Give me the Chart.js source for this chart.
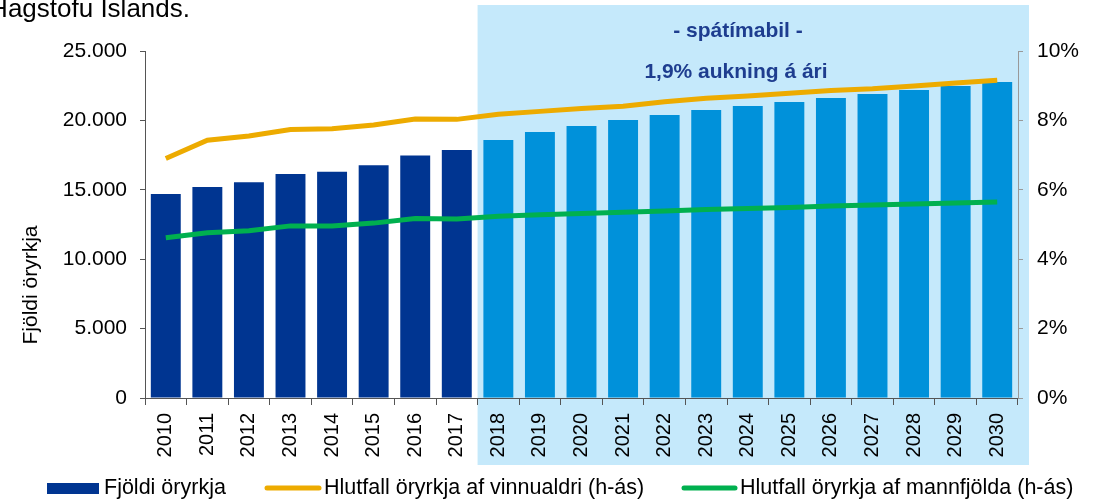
<!DOCTYPE html>
<html lang="is">
<head>
<meta charset="UTF-8">
<title>Fjöldi öryrkja</title>
<style>
  html, body { margin: 0; padding: 0; background: #fff; }
  #graf { display: block; }
</style>
</head>
<body>
<canvas id="graf" width="1099" height="499"></canvas>
<script src="https://cdn.jsdelivr.net/npm/chart.js@4"></script>
<script>
// ================= GÖGN =================
const ar = ["2010", "2011", "2012", "2013", "2014", "2015", "2016", "2017", "2018", "2019", "2020",
  "2021", "2022", "2023", "2024", "2025", "2026", "2027", "2028", "2029", "2030"];
const fjoldiOryrkja = [14700, 15200, 15540, 16140, 16300, 16760, 17480, 17870, 18590, 19160, 19600,
  20030, 20390, 20750, 21040, 21330, 21610, 21900, 22190, 22480, 22770];
const hlutfallVinnualdur = [6.90, 7.43, 7.55, 7.74, 7.76, 7.87, 8.04, 8.03, 8.18, 8.26, 8.34,
  8.41, 8.54, 8.64, 8.70, 8.78, 8.86, 8.91, 8.99, 9.08, 9.16];
const hlutfallMannfjoldi = [4.62, 4.76, 4.82, 4.96, 4.96, 5.04, 5.17, 5.16, 5.24, 5.28, 5.32,
  5.35, 5.39, 5.43, 5.46, 5.49, 5.53, 5.56, 5.59, 5.62, 5.65];
const vinstriAs = [0, 5000, 10000, 15000, 20000, 25000];
const haegriAs = [0, 2, 4, 6, 8, 10];
const spaHefst = "2018"; // fyrsta ár spátímabils

// ================= LITIR OG LETUR =================
const DOKKBLAR = "#003591";
const LJOSBLAR = "#0091da";
const SPA_BAKGRUNNUR = "#c5e9fb";
const APPELSINA = "#edab00";
const GRAENN = "#00b04f";
const TEXTI_SPA = "#1e3d8f";
const LETUR = "'Liberation Sans', Arial, sans-serif";

const spaIndex = ar.indexOf(spaHefst);
const thusund = v => String(v).replace(/\B(?=(\d{3})+(?!\d))/g, ".");

// ================= TEIKNING =================
const bakgrunnur = {
  id: "bakgrunnur",
  beforeDraw(chart) {
    const { ctx, scales } = chart;
    const x0 = scales.x.getPixelForValue(spaIndex - 0.5);
    const x1 = scales.y1.left + 11;
    ctx.save();
    ctx.fillStyle = SPA_BAKGRUNNUR;
    ctx.fillRect(x0, 5, x1 - x0, 460);
    ctx.restore();
  },
  afterDraw(chart) {
    const { ctx } = chart;
    ctx.save();
    // heimild efst til vinstri (klippt)
    ctx.font = "26px " + LETUR;
    ctx.fillStyle = "#000";
    ctx.textBaseline = "alphabetic";
    const heimild = "Hagstofu Islands.";
    ctx.fillText(heimild, 190 - ctx.measureText(heimild).width, 17);

    // texti í spásvæði
    ctx.fillStyle = TEXTI_SPA;
    ctx.font = "bold 21px " + LETUR;
    ctx.textAlign = "center";
    ctx.fillText("- spátímabil -", 738, 37);
    ctx.fillText("1,9% aukning á ári", 736, 78);

    // titill vinstri áss
    ctx.fillStyle = "#000";
    ctx.font = "21px " + LETUR;
    ctx.textBaseline = "middle";
    ctx.translate(31, 285);
    ctx.rotate(-Math.PI / 2);
    ctx.fillText("Fjöldi öryrkja", 0, 0);
    ctx.restore();

    // skýringar
    ctx.save();
    ctx.font = "21.5px " + LETUR;
    ctx.textBaseline = "middle";
    const y = 488;
    ctx.fillStyle = DOKKBLAR;
    ctx.fillRect(47, y - 5, 52, 11);
    ctx.fillStyle = "#000";
    ctx.fillText(chart.data.datasets[0].label, 104, y);
    ctx.lineCap = "round";
    ctx.lineWidth = 5;
    ctx.strokeStyle = APPELSINA;
    ctx.beginPath(); ctx.moveTo(267, y); ctx.lineTo(319, y); ctx.stroke();
    ctx.fillText(chart.data.datasets[1].label, 324, y);
    ctx.strokeStyle = GRAENN;
    ctx.beginPath(); ctx.moveTo(684, y); ctx.lineTo(735, y); ctx.stroke();
    ctx.fillText(chart.data.datasets[2].label, 740, y);
    ctx.restore();
  }
};

new Chart(document.getElementById("graf"), {
  type: "bar",
  data: {
    labels: ar,
    datasets: [
      {
        label: "Fjöldi öryrkja",
        data: fjoldiOryrkja,
        backgroundColor: ar.map((a, i) => i < spaIndex ? DOKKBLAR : LJOSBLAR),
        yAxisID: "y",
        barPercentage: 0.72,
        categoryPercentage: 1,
        order: 3
      },
      {
        type: "line",
        label: "Hlutfall öryrkja af vinnualdri (h-ás)",
        data: hlutfallVinnualdur,
        borderColor: APPELSINA,
        borderWidth: 5,
        pointRadius: 0,
        tension: 0,
        yAxisID: "y1",
        order: 1
      },
      {
        type: "line",
        label: "Hlutfall öryrkja af mannfjölda (h-ás)",
        data: hlutfallMannfjoldi,
        borderColor: GRAENN,
        borderWidth: 5,
        pointRadius: 0,
        tension: 0,
        yAxisID: "y1",
        order: 2
      }
    ]
  },
  options: {
    responsive: false,
    animation: false,
    layout: { padding: { top: 51, bottom: 41, left: 0, right: 0 } },
    plugins: { legend: { display: false }, tooltip: { enabled: false } },
    scales: {
      x: {
        afterFit: s => { s.height = 60; },
        grid: { offset: true, drawOnChartArea: false, tickLength: 7, color: "#555" },
        border: { color: "#555" },
        ticks: {
          minRotation: 90, maxRotation: 90, padding: 8,
          color: "#000", font: { family: LETUR, size: 20 }
        }
      },
      y: {
        position: "left",
        min: vinstriAs[0],
        max: vinstriAs[vinstriAs.length - 1],
        afterFit: s => { s.width = 145; },
        afterBuildTicks: s => { s.ticks = vinstriAs.map(v => ({ value: v })); },
        grid: { drawOnChartArea: false, tickLength: 5, color: "#555" },
        border: { color: "#555" },
        ticks: {
          padding: 13, color: "#000", font: { family: LETUR, size: 21 },
          callback: v => thusund(v)
        }
      },
      y1: {
        position: "right",
        min: haegriAs[0],
        max: haegriAs[haegriAs.length - 1],
        afterFit: s => { s.width = 81; },
        afterBuildTicks: s => { s.ticks = haegriAs.map(v => ({ value: v })); },
        grid: { drawOnChartArea: false, tickLength: 5, color: "#999" },
        border: { color: "#999" },
        ticks: {
          padding: 14, color: "#000", font: { family: LETUR, size: 21 },
          callback: v => v + "%"
        }
      }
    }
  },
  plugins: [bakgrunnur]
});
</script>
</body>
</html>
